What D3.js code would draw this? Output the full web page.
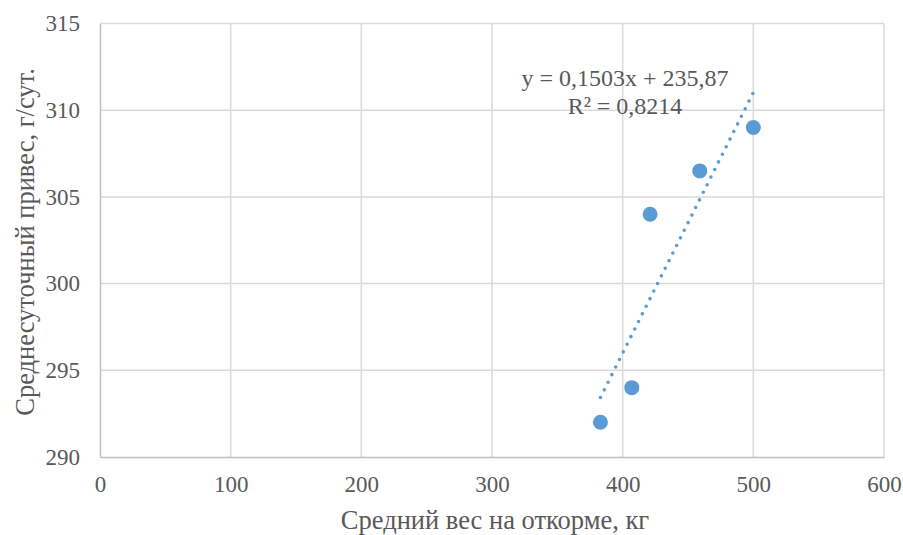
<!DOCTYPE html>
<html>
<head>
<meta charset="utf-8">
<script src="https://cdn.jsdelivr.net/npm/d3@7"></script>
<style>
  body { margin: 0; background: #fff; }
  text { font-family: "Liberation Serif", "Times New Roman", serif; fill: #595959; }
</style>
</head>
<body>
<script>
// data
const weights = [383, 407, 421, 459, 500];      // средний вес, кг
const gains = [292, 294, 304, 306.5, 309];      // привес, г/сут
const xTicks = [0, 100, 200, 300, 400, 500, 600];
const yTicks = [290, 295, 300, 305, 310, 315];
const trendSlope = 0.1503;
const trendIntercept = 235.87;
const trendLabels = ['y = 0,1503x + 235,87', 'R² = 0,8214'];

const margin = {top: 23.5, bottom: 78, left: 100, right: 19};
const width = 903 - margin.left - margin.right;
const height = 535 - margin.top - margin.bottom;

const svg = d3.select('body').append('svg')
  .attr('width', 903)
  .attr('height', 535);

const g = svg.append('g')
  .attr('transform', `translate(${margin.left},${margin.top})`);

const x = d3.scaleLinear().domain([0, 600]).range([0, width]);
const y = d3.scaleLinear().domain([290, 315]).range([height, 0]);

// grid
g.selectAll('.vgrid').data(xTicks.slice(1)).join('line')
  .attr('x1', d => x(d)).attr('x2', d => x(d))
  .attr('y1', 0).attr('y2', height)
  .attr('stroke', '#d9d9d9').attr('stroke-width', 1.5);

g.selectAll('.hgrid').data(yTicks.slice(1)).join('line')
  .attr('x1', 0).attr('x2', width)
  .attr('y1', d => y(d)).attr('y2', d => y(d))
  .attr('stroke', '#d9d9d9').attr('stroke-width', 1.5);

// axes
const xAxis = g.append('g')
  .attr('transform', `translate(0,${height})`)
  .call(d3.axisBottom(x).tickValues(xTicks).tickSize(0).tickPadding(19).tickFormat(d3.format('d')));
const yAxis = g.append('g')
  .call(d3.axisLeft(y).tickValues(yTicks).tickSize(0).tickPadding(20).tickFormat(d3.format('d')));

[xAxis, yAxis].forEach(a => {
  a.select('.domain').attr('stroke', '#bfbfbf').attr('stroke-width', 1.5);
  a.selectAll('text').attr('font-size', 23).attr('font-family', '"Liberation Serif", serif').attr('fill', '#595959');
});

// trendline
const xMin = d3.min(weights), xMax = d3.max(weights);
g.append('line')
  .attr('x1', x(xMin)).attr('y1', y(trendSlope * xMin + trendIntercept))
  .attr('x2', x(xMax)).attr('y2', y(trendSlope * xMax + trendIntercept))
  .attr('stroke', '#5b9bd5').attr('stroke-width', 3.6)
  .attr('stroke-linecap', 'round').attr('stroke-dasharray', '0 8.5');

// points
g.selectAll('circle').data(weights).join('circle')
  .attr('cx', d => x(d))
  .attr('cy', (d, i) => y(gains[i]))
  .attr('r', 7.5)
  .attr('fill', '#5b9bd5');

// equation label
svg.append('text')
  .attr('x', 625).attr('y', 86)
  .attr('text-anchor', 'middle').attr('font-size', 24)
  .selectAll('tspan').data(trendLabels).join('tspan')
  .attr('x', 625).attr('dy', (d, i) => i ? 28 : 0)
  .text(d => d);

// axis titles
svg.append('text')
  .attr('x', 495).attr('y', 529)
  .attr('text-anchor', 'middle').attr('font-size', 26.5)
  .text('Средний вес на откорме, кг');

svg.append('text')
  .attr('transform', 'translate(34,242) rotate(-90)')
  .attr('text-anchor', 'middle').attr('font-size', 26.5)
  .text('Среднесуточный привес, г/сут.');
</script>
</body>
</html>
